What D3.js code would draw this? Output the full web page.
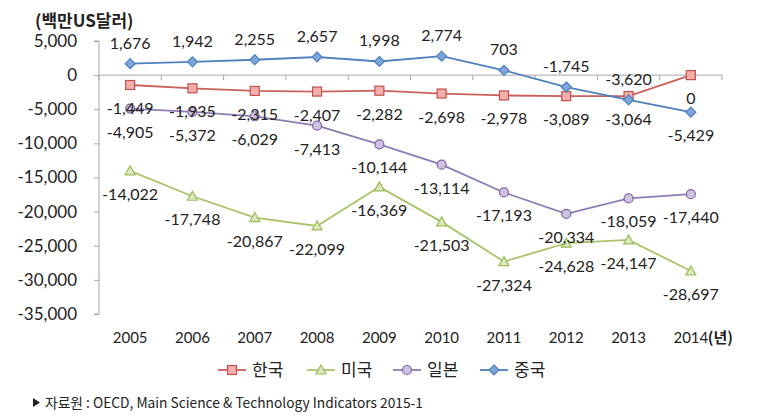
<!DOCTYPE html>
<html>
<head>
<meta charset="utf-8">
<script src="https://cdn.jsdelivr.net/npm/d3@7"></script>
<style>
html,body{margin:0;padding:0;background:#fff;}
svg{display:block;}
</style>
</head>
<body>
<svg id="chart" width="780" height="420"></svg>
<script>
// ---- data ----
const years = ["2005","2006","2007","2008","2009","2010","2011","2012","2013","2014"];
const korea = [-1449,-1935,-2315,-2407,-2282,-2698,-2978,-3089,-3064,0];
const usa   = [-14022,-17748,-20867,-22099,-16369,-21503,-27324,-24628,-24147,-28697];
const japan = [-4905,-5372,-6029,-7413,-10144,-13114,-17193,-20334,-18059,-17440];
const china = [1676,1942,2255,2657,1998,2774,703,-1745,-3620,-5429];
const seriesNames = ["한국","미국","일본","중국"];
const yTicks = [5000,0,-5000,-10000,-15000,-20000,-25000,-30000,-35000];
const unitLabel = "(백만US달러)";
const yearSuffix = "(년)";
const sourceNote = "자료원 : OECD, Main Science & Technology Indicators 2015-1";

// ---- styles ----
const styles = [
  {name: seriesNames[0], values: korea, line: "#C9605C", fill: "#F4AFAD", stroke: "#C0504D", shape: "square"},
  {name: seriesNames[1], values: usa,   line: "#A8C46A", fill: "#DCE8BE", stroke: "#9BBB59", shape: "triangle"},
  {name: seriesNames[2], values: japan, line: "#8D7CB3", fill: "#CDC3E0", stroke: "#8064A2", shape: "circle"},
  {name: seriesNames[3], values: china, line: "#4F81BD", fill: "#7EA5D8", stroke: "#4F81BD", shape: "diamond"}
];

const svg = d3.select("#chart");
const numFont = "Lato, 'Noto Sans', sans-serif";
const krFont = "'Noto Sans CJK KR', sans-serif";
const comma = d3.format(",");
const fmt = v => comma(v).replace("\u2212", "-");

const x = d3.scaleBand().domain(years).range([99, 722]);
const y = d3.scaleLinear().domain([-35000, 5000]).range([314, 41]);
const cx = d => x(d) + x.bandwidth() / 2;

// y axis
const yAxis = svg.append("g").attr("transform", "translate(99,0)")
  .call(d3.axisLeft(y).tickValues(yTicks).tickSize(5).tickPadding(17).tickFormat(fmt));
yAxis.select(".domain").attr("stroke", "#A6A6A6").attr("d", `M-5,${y(5000)}H0V${y(-35000)}H-5`);
yAxis.selectAll(".tick line").attr("stroke", "#A6A6A6");
yAxis.selectAll(".tick text").attr("font-family", numFont).attr("font-size", 17).attr("fill", "#222");

// zero line with category tick marks
const xAxis = svg.append("g").attr("transform", `translate(0,${y(0)})`);
xAxis.append("line").attr("x1", 99).attr("x2", 722).attr("stroke", "#A6A6A6").attr("stroke-width", 1);
const bounds = years.map(d => x(d)).concat([x(years[years.length-1]) + x.bandwidth()]);
xAxis.selectAll("line.tk").data(bounds).join("line").attr("class","tk")
  .attr("x1", d => d).attr("x2", d => d).attr("y1", 0).attr("y2", 5).attr("stroke", "#A6A6A6");

// category labels at the bottom
svg.append("g").selectAll("text").data(years).join("text")
  .attr("x", d => cx(d)).attr("y", 343).attr("text-anchor", "middle")
  .attr("font-family", numFont).attr("font-size", 15).attr("fill", "#222").text(d => d);
const last = years[years.length-1];
svg.append("text").attr("x", cx(last) + 17).attr("y", 343)
  .attr("font-family", krFont).attr("font-size", 15).attr("font-weight", "bold").attr("fill", "#222").text(yearSuffix);

// unit label
svg.append("text").attr("x", 35).attr("y", 27)
  .attr("font-family", krFont).attr("font-size", 17).attr("font-weight", "bold").attr("fill", "#222").text(unitLabel);

// markers
function drawMarker(g, shape, fill, stroke) {
  if (shape === "square") g.append("rect").attr("x", -4.5).attr("y", -4.5).attr("width", 9).attr("height", 9);
  else if (shape === "triangle") g.append("path").attr("d", "M0,-5L5,4L-5,4Z");
  else if (shape === "circle") g.append("circle").attr("r", 4.5);
  else g.append("path").attr("d", "M0,-5L5,0L0,5L-5,0Z");
  g.selectAll("*").attr("fill", fill).attr("stroke", stroke).attr("stroke-width", 1.2);
}

const line = d3.line().x((d, i) => cx(years[i])).y(d => y(d));

// lines
styles.forEach(s => {
  svg.append("path").datum(s.values).attr("d", line)
    .attr("fill", "none").attr("stroke", s.line).attr("stroke-width", 1.8);
});
// markers
styles.forEach(s => {
  s.values.forEach((v, i) => {
    const g = svg.append("g").attr("transform", `translate(${cx(years[i])},${y(v)})`);
    drawMarker(g, s.shape, s.fill, s.stroke);
  });
});
// data labels: China above (except last point), others below
styles.forEach((s, si) => {
  s.values.forEach((v, i) => {
    const above = si === 3 && i < s.values.length - 1;
    svg.append("text")
      .attr("x", cx(years[i])).attr("y", y(v) + (above ? -15 : 29))
      .attr("text-anchor", "middle").attr("font-family", numFont).attr("font-size", 16)
      .attr("fill", "#222").text(fmt(v));
  });
});

// legend
const legendX = [218, 307, 393, 480];
styles.forEach((s, i) => {
  const g = svg.append("g").attr("transform", `translate(${legendX[i]},370)`);
  g.append("line").attr("x1", 0).attr("x2", 28).attr("stroke", s.line).attr("stroke-width", 1.8);
  const m = g.append("g").attr("transform", "translate(14,0)");
  drawMarker(m, s.shape, s.fill, s.stroke);
  g.append("text").attr("x", 34).attr("y", 6).attr("font-family", krFont).attr("font-size", 17)
    .attr("fill", "#222").text(s.name);
});

// source note
svg.append("path").attr("d", "M33,398L40,402.5L33,407Z").attr("fill", "#222");
svg.append("text").attr("x", 45).attr("y", 408).attr("font-family", krFont).attr("font-size", 14)
  .attr("fill", "#222").attr("textLength", 378).attr("lengthAdjust", "spacingAndGlyphs").text(sourceNote);
</script>
</body>
</html>
